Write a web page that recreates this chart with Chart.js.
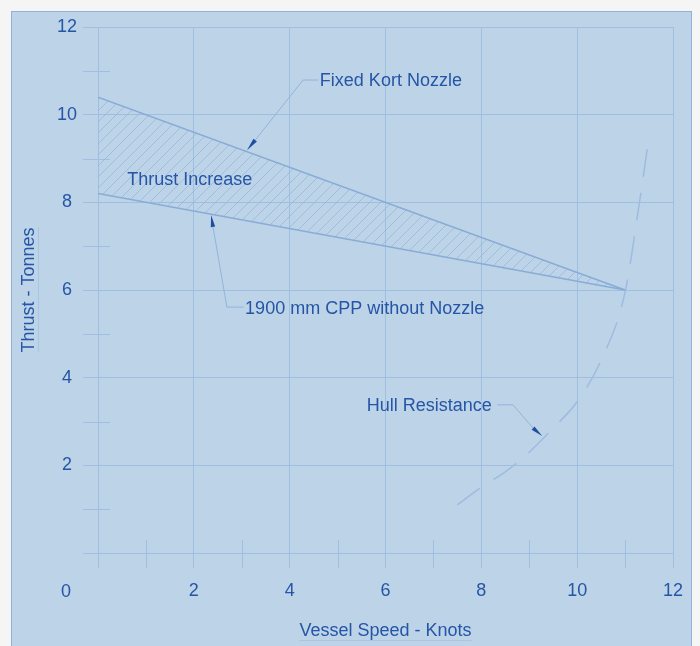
<!DOCTYPE html>
<html><head><meta charset="utf-8">
<script src="https://cdn.jsdelivr.net/npm/chart.js@4/dist/chart.umd.min.js"></script>
<style>
html,body{margin:0;padding:0;background:#f5f5f5;overflow:hidden;}
#panel{position:absolute;left:11px;top:11px;width:679px;height:640px;background:#bdd3e7;border:1px solid #8fb1da;border-bottom:none;}
#c{position:absolute;left:0;top:0;}
</style></head><body>
<div id="panel"></div>
<canvas id="c" width="700" height="646"></canvas>
<script>
// ---- data ----
const speedKnots = [0, 11];
const kortNozzleThrust = [10.4, 6.0];
const cppNoNozzleThrust = [8.2, 6.0];
const hullSpeed = [7.5, 8.0, 8.5, 9.0, 9.5, 10.0, 10.5, 11.0, 11.3, 11.5];
const hullThrust = [1.1, 1.5, 1.85, 2.3, 2.85, 3.45, 4.4, 5.95, 8.0, 9.5];
const xTickValues = [0, 2, 4, 6, 8, 10, 12];
const yTickValues = [0, 2, 4, 6, 8, 10, 12];
const minorTickValues = [1, 3, 5, 7, 9, 11];
const xTitle = 'Vessel Speed - Knots';
const yTitle = 'Thrust - Tonnes';
const seriesNames = ['Fixed Kort Nozzle', '1900 mm CPP without Nozzle', 'Hull Resistance'];
// annotation texts and anchor points (data units)
const noteText = ['Fixed Kort Nozzle', 'Thrust Increase', '1900 mm CPP without Nozzle', 'Hull Resistance'];
const noteX = [4.63, 0.61, 3.07, 5.61];
const noteY = [10.77, 8.51, 5.57, 3.35];
// leader paths (data units); last two points define the arrowhead (base, tip)
const leaderKort = [[4.6, 10.79], [4.28, 10.79], [3.28, 9.42], [3.11, 9.19]];
const leaderCpp = [[3.04, 5.61], [2.69, 5.61], [2.40, 7.44], [2.36, 7.71]];
const leaderHull = [[8.33, 3.38], [8.66, 3.38], [9.08, 2.85], [9.27, 2.67]];

const TEXT = '#2555a6';
const GRID = '#a0bee0';
const LINE = '#88acd6';
const FONT = '"Liberation Sans", Arial, Helvetica, sans-serif';
Chart.defaults.font.family = FONT;
Chart.defaults.font.size = 18;
Chart.defaults.color = TEXT;

function hatch() {
  const s = 11;
  const c = document.createElement('canvas');
  c.width = s; c.height = s;
  const g = c.getContext('2d');
  g.strokeStyle = 'rgba(140,175,220,0.6)';
  g.lineWidth = 1;
  g.beginPath();
  g.moveTo(0, s); g.lineTo(s, 0);
  g.moveTo(-s / 2, s / 2); g.lineTo(s / 2, -s / 2);
  g.moveTo(s / 2, s * 1.5); g.lineTo(s * 1.5, s / 2);
  g.stroke();
  return document.getElementById('c').getContext('2d').createPattern(c, 'repeat');
}

const toXY = (xs, ys) => xs.map((v, i) => ({x: v, y: ys[i]}));

const decor = {
  id: 'decor',
  beforeDatasetsDraw(chart) {
    const {ctx, scales: {x, y}, chartArea: ca} = chart;
    ctx.save();
    ctx.strokeStyle = GRID; ctx.lineWidth = 1;
    minorTickValues.forEach(v => {
      const py = Math.round(y.getPixelForValue(v)) + 0.5;
      ctx.beginPath(); ctx.moveTo(ca.left - 15, py); ctx.lineTo(ca.left + 12, py); ctx.stroke();
      const px = Math.round(x.getPixelForValue(v)) + 0.5;
      ctx.beginPath(); ctx.moveTo(px, ca.bottom - 13); ctx.lineTo(px, ca.bottom + 15); ctx.stroke();
    });
    ctx.restore();
  },
  afterDraw(chart) {
    const {ctx, scales: {x, y}, chartArea: ca} = chart;
    ctx.save();
    const P = p => [x.getPixelForValue(p[0]), y.getPixelForValue(p[1])];
    [leaderKort, leaderCpp, leaderHull].forEach(path => {
      const pts = path.map(P);
      ctx.strokeStyle = '#93b4dc'; ctx.lineWidth = 1;
      ctx.beginPath();
      for (let i = 0; i < pts.length - 1; i++) {
        if (i === 0) ctx.moveTo(pts[i][0], pts[i][1]); else ctx.lineTo(pts[i][0], pts[i][1]);
      }
      ctx.stroke();
      const b = pts[pts.length - 2], t = pts[pts.length - 1];
      const dx = t[0] - b[0], dy = t[1] - b[1], L = Math.hypot(dx, dy);
      const nx = -dy / L * 2.2, ny = dx / L * 2.2;
      ctx.fillStyle = '#1f4f9e';
      ctx.beginPath();
      ctx.moveTo(t[0], t[1]);
      ctx.lineTo(b[0] + nx, b[1] + ny);
      ctx.lineTo(b[0] - nx, b[1] - ny);
      ctx.closePath(); ctx.fill();
    });
    ctx.fillStyle = TEXT;
    ctx.font = '18px ' + FONT;
    ctx.textAlign = 'left'; ctx.textBaseline = 'middle';
    noteText.forEach((s, i) => {
      ctx.fillText(s, x.getPixelForValue(noteX[i]), y.getPixelForValue(noteY[i]));
    });
    // the "0" corner label
    ctx.textAlign = 'center';
    ctx.fillText('0', ca.left - 32, ca.bottom + 39);
    // title underlines
    ctx.strokeStyle = '#a9c5e4'; ctx.lineWidth = 1;
    const wx = ctx.measureText(xTitle).width;
    const cx = (ca.left + ca.right) / 2;
    ctx.beginPath(); ctx.moveTo(cx - wx / 2, 640.5); ctx.lineTo(cx + wx / 2, 640.5); ctx.stroke();
    const wy = ctx.measureText(yTitle).width;
    const cy = (ca.top + ca.bottom) / 2;
    ctx.beginPath(); ctx.moveTo(38.5, cy - wy / 2); ctx.lineTo(38.5, cy + wy / 2); ctx.stroke();
    ctx.restore();
  }
};

new Chart(document.getElementById('c'), {
  type: 'scatter',
  data: {
    datasets: [
      {label: seriesNames[0], data: toXY(speedKnots, kortNozzleThrust), showLine: true,
       borderColor: LINE, borderWidth: 1.5, pointRadius: 0, fill: '+1', backgroundColor: hatch()},
      {label: seriesNames[1], data: toXY(speedKnots, cppNoNozzleThrust), showLine: true,
       borderColor: LINE, borderWidth: 1.5, pointRadius: 0, fill: false},
      {label: seriesNames[2], data: toXY(hullSpeed, hullThrust), showLine: true,
       borderColor: '#9dbce0', borderWidth: 1.5, pointRadius: 0, fill: false,
       borderDash: [28, 16], cubicInterpolationMode: 'monotone'}
    ]
  },
  options: {
    responsive: false,
    animation: false,
    devicePixelRatio: 1,
    layout: {padding: {left: 0, top: 27, right: 27, bottom: 0}},
    plugins: {legend: {display: false}, tooltip: {enabled: false}},
    scales: {
      x: {
        type: 'linear', min: 0, max: 12,
        afterBuildTicks: s => { s.ticks = xTickValues.map(v => ({value: v})); },
        afterFit: s => { s.height = 93; },
        ticks: {color: TEXT, padding: 12, callback: v => v === 0 ? '' : String(v), maxRotation: 0, autoSkip: false},
        grid: {color: GRID, tickColor: GRID, tickLength: 15, lineWidth: 1},
        border: {color: GRID},
        title: {display: true, text: xTitle, color: TEXT, font: {size: 18}, padding: {top: 0, bottom: 4}}
      },
      y: {
        type: 'linear', min: 0, max: 12,
        afterBuildTicks: s => { s.ticks = yTickValues.map(v => ({value: v})); },
        afterFit: s => { s.width = 98; },
        ticks: {color: TEXT, padding: 6, crossAlign: 'center', callback: v => v === 0 ? '' : String(v), autoSkip: false},
        grid: {color: GRID, tickColor: GRID, tickLength: 15, lineWidth: 1},
        border: {color: GRID},
        title: {display: true, text: yTitle, color: TEXT, font: {size: 18}, padding: {top: 18, bottom: 0}}
      }
    }
  },
  plugins: [decor]
});
</script>
</body></html>
